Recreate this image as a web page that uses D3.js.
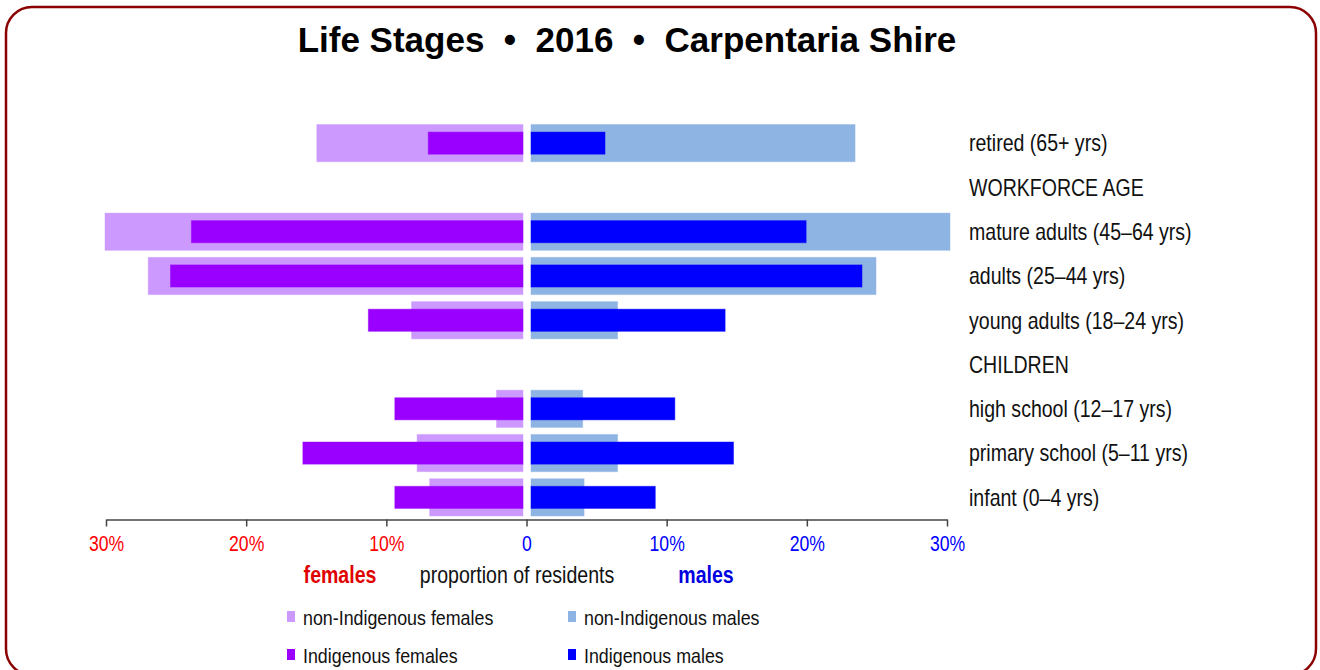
<!DOCTYPE html>
<html>
<head>
<meta charset="utf-8">
<script src="https://cdn.jsdelivr.net/npm/d3@7"></script>
<style>
  body { margin: 0; background: #fff; }
  text { font-family: 'Liberation Sans', Arial, sans-serif; }
  .title { font-weight: bold; }
</style>
</head>
<body>
<svg id="svg_stages" width="1320" height="670"></svg>
<script>
// rows top to bottom, headers carry no bars
const stages = ['retired (65+ yrs)', 'WORKFORCE AGE', 'mature adults (45–64 yrs)', 'adults (25–44 yrs)',
  'young adults (18–24 yrs)', 'CHILDREN', 'high school (12–17 yrs)', 'primary school (5–11 yrs)', 'infant (0–4 yrs)']

const nonIndigenousFemales = [14.8, null, 30.0, 26.9, 8.0, null, 1.9, 7.6, 6.7]
const indigenousFemales = [6.8, null, 23.8, 25.3, 11.1, null, 9.2, 15.8, 9.2]
const nonIndigenousMales = [23.2, null, 30.0, 24.7, 6.2, null, 3.7, 6.2, 3.8]
const indigenousMales = [5.3, null, 19.7, 23.7, 13.9, null, 10.3, 14.5, 8.9]

const tickValues = [-30, -20, -10, 0, 10, 20, 30]

const legendItems = [
  { label: 'non-Indigenous females', color: '#cc99ff' },
  { label: 'non-Indigenous males', color: '#8eb4e3' },
  { label: 'Indigenous females', color: '#9900ff' },
  { label: 'Indigenous males', color: '#0000ff' }
]

// the chart text is a narrow face, squeeze the normal one instead
const NARROW = 0.85

function drawChart() {
  const svg = d3.select('#svg_stages')

  svg.append('rect')
    .attr('x', 6).attr('y', 7)
    .attr('width', 1310).attr('height', 668)
    .attr('rx', 26).attr('ry', 26)
    .attr('fill', '#fff')
    .attr('stroke', '#8b0000')
    .attr('stroke-width', 2.5)

  svg.append('text')
    .attr('class', 'title')
    .attr('x', 627).attr('y', 52)
    .attr('text-anchor', 'middle')
    .attr('font-size', 35)
    .text('Life Stages\u00a0\u00a0•\u00a0\u00a02016\u00a0\u00a0•\u00a0\u00a0Carpentaria Shire')

  const y = d3.scaleBand().domain(stages).range([121, 519.5]).padding(0)
  const outerH = y.bandwidth() * 0.84
  const innerH = y.bandwidth() * 0.5

  const xLeft = d3.scaleLinear().domain([0, 30]).range([523, 105])
  const xRight = d3.scaleLinear().domain([0, 30]).range([531, 950])
  const xAxisScale = d3.scaleLinear().domain([-30, 30]).range([106, 947])

  const rows = stages.map((name, i) => ({
    name,
    nf: nonIndigenousFemales[i],
    f: indigenousFemales[i],
    nm: nonIndigenousMales[i],
    m: indigenousMales[i]
  }))
  const barRows = rows.filter(d => d.nf !== null)

  const addBars = (key, side, color, h) => {
    const x = side === 'left' ? xLeft : xRight
    svg.append('g')
      .selectAll('rect')
      .data(barRows)
      .enter()
      .append('rect')
      .attr('x', d => side === 'left' ? x(d[key]) : x(0))
      .attr('width', d => Math.abs(x(d[key]) - x(0)))
      .attr('y', d => y(d.name) + (y.bandwidth() - h) / 2)
      .attr('height', h)
      .attr('fill', color)
      .attr('stroke', color)
      .attr('stroke-opacity', 0.45)
      .attr('stroke-width', 1)
  }

  addBars('nf', 'left', '#cc99ff', outerH)
  addBars('f', 'left', '#9900ff', innerH)
  addBars('nm', 'right', '#8eb4e3', outerH)
  addBars('m', 'right', '#0000ff', innerH)

  // row labels
  svg.append('g')
    .selectAll('text')
    .data(stages)
    .enter()
    .append('text')
    .attr('transform', d => `translate(969, ${y(d) + y.bandwidth() / 2}) scale(${NARROW}, 1)`)
    .attr('dy', '0.36em')
    .attr('font-size', 23)
    .attr('fill', '#111')
    .text(d => d)

  // axis
  const axis = d3.axisBottom(xAxisScale)
    .tickValues(tickValues)
    .tickSize(7)
    .tickSizeOuter(0)
    .tickPadding(9)
    .tickFormat(d => d === 0 ? '0' : Math.abs(d) + '%')

  const axisGroup = svg.append('g')
    .attr('transform', 'translate(0, 519.5)')
    .call(axis)

  axisGroup.select('.domain').attr('stroke', '#444').attr('stroke-width', 1.5)
  axisGroup.selectAll('.tick line').attr('stroke', '#444').attr('stroke-width', 1.5)
  axisGroup.selectAll('.tick text')
    .attr('font-size', 22)
    .attr('font-family', null)
    .attr('transform', 'scale(0.8, 1)')
    .attr('fill', d => d < 0 ? '#ff0000' : '#0000ff')

  const captions = svg.append('g').attr('font-size', 23)
  const caption = (x, text, color, bold) => {
    captions.append('text')
      .attr('transform', `translate(${x}, 575) scale(${NARROW}, 1)`)
      .attr('dy', '0.36em')
      .attr('text-anchor', 'middle')
      .attr('font-weight', bold ? 'bold' : 'normal')
      .attr('fill', color)
      .text(text)
  }
  caption(340, 'females', '#e00000', true)
  caption(517, 'proportion of residents', '#111', false)
  caption(706, 'males', '#0000e0', true)

  // legend
  const legend = svg.append('g')
  const legendX = d3.scaleOrdinal().domain([0, 1]).range([287, 568])
  const legendY = d3.scaleOrdinal().domain([0, 1]).range([617, 655])

  const item = legend.selectAll('g')
    .data(legendItems)
    .enter()
    .append('g')
    .attr('transform', (d, i) => `translate(${legendX(i % 2)}, ${legendY(Math.floor(i / 2))})`)

  item.append('rect')
    .attr('x', 0).attr('y', -6)
    .attr('width', 8).attr('height', 11)
    .attr('fill', d => d.color)

  item.append('text')
    .attr('transform', `translate(16, 0) scale(${NARROW}, 1)`)
    .attr('dy', '0.36em')
    .attr('font-size', 21)
    .attr('fill', '#111')
    .text(d => d.label)
}

drawChart()
</script>
</body>
</html>
